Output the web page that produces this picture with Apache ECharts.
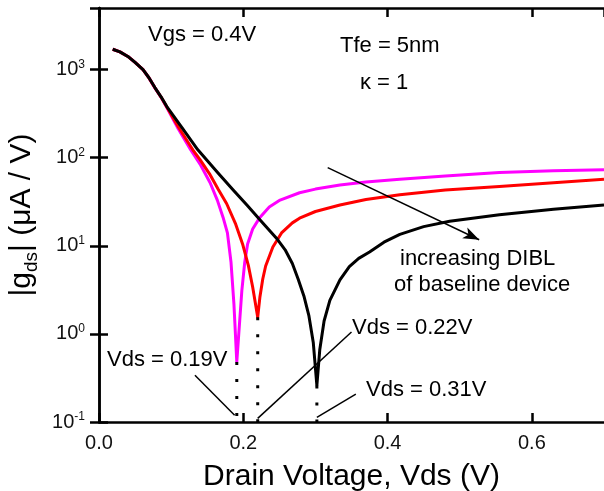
<!DOCTYPE html>
<html>
<head>
<meta charset="utf-8">
<script src="https://cdn.jsdelivr.net/npm/echarts@6/dist/echarts.min.js"></script>
<style>
  html, body { margin: 0; padding: 0; background: #fff; }
  #chart { width: 604px; height: 491px; }
</style>
</head>
<body>
<div id="chart"></div>
<script>
// |gds| vs Vds
let vdsMagenta = [0.019, 0.029, 0.04, 0.05, 0.061, 0.069, 0.0775, 0.086, 0.094, 0.11, 0.127, 0.141, 0.154, 0.164, 0.172, 0.178, 0.183, 0.187, 0.191, 0.195, 0.198, 0.202, 0.206, 0.213, 0.223, 0.236, 0.251, 0.278, 0.30, 0.334, 0.37, 0.417, 0.48, 0.555, 0.63, 0.7];
let gMagenta   = [1700, 1590, 1410, 1205, 1000, 810, 620, 485, 372, 212, 123, 82, 52, 33, 21, 14, 6.5, 2.2, 0.48, 1.4, 3.1, 6.5, 10.5, 15.5, 21, 27.5, 33, 40, 44, 49, 53, 57, 62, 68, 71, 73];

let vdsRed = [0.019, 0.029, 0.04, 0.05, 0.061, 0.069, 0.0775, 0.086, 0.094, 0.11, 0.13, 0.14, 0.153, 0.165, 0.177, 0.189, 0.199, 0.207, 0.213, 0.220, 0.223, 0.227, 0.231, 0.241, 0.253, 0.268, 0.278, 0.30, 0.334, 0.37, 0.417, 0.48, 0.555, 0.63, 0.7];
let gRed   = [1700, 1590, 1410, 1205, 1000, 810, 622, 487, 376, 223, 123, 95, 66, 44, 30, 18, 10.5, 6, 3.4, 1.55, 2.6, 4.2, 5.9, 9.7, 14, 18.2, 20.6, 24.5, 29, 33.5, 38, 43, 47, 52, 57];

let vdsBlack = [0.019, 0.029, 0.04, 0.05, 0.061, 0.069, 0.0775, 0.086, 0.094, 0.115, 0.137, 0.165, 0.186, 0.205, 0.223, 0.246, 0.258, 0.268, 0.276, 0.284, 0.291, 0.297, 0.302, 0.306, 0.312, 0.32, 0.334, 0.347, 0.36, 0.375, 0.395, 0.417, 0.45, 0.486, 0.555, 0.63, 0.7];
let gBlack   = [1700, 1590, 1410, 1205, 1000, 813, 625, 491, 380, 219, 123, 67, 43, 29, 19.7, 12.2, 9, 6.3, 4.2, 2.7, 1.6, 0.8, 0.26, 0.66, 1.4, 2.4, 4.1, 5.8, 7.2, 8.5, 11, 13.5, 16.5, 19, 22.5, 26, 29];

// minimum positions (dotted drop lines)
let dipVds = [0.191, 0.220, 0.302];
let dipG   = [0.48, 1.55, 0.26];

let xTicks = ['0.0', '0.2', '0.4', '0.6'];

let FONT = 'Liberation Sans, Arial, sans-serif';

function pairs(xs, ys){
    return xs.map((x, i) => [x, ys[i]]);
}

let chart = echarts.init(document.getElementById('chart'));

let curve = (name, color, xs, ys) => ({
    name: name,
    type: 'line',
    data: pairs(xs, ys),
    showSymbol: false,
    symbol: 'none',
    smooth: false,
    lineStyle: { color: color, width: 3, join: 'round' },
    z: 3
});

let dropLines = dipVds.map((x, i) => ({
    type: 'line',
    data: [[x, dipG[i]], [x, 0.1]],
    symbol: 'none',
    lineStyle: { color: '#000', width: 3, type: [3, 14] },
    z: 4
}));

let thin = { color: '#000', width: 1.5, type: 'solid' };

function note(text, left, top){
    return { type: 'text', left: left, top: top, style: { text: text, fontSize: 22, fontFamily: FONT, fill: '#000' } };
}

let option = {
    animation: false,
    backgroundColor: '#fff',
    textStyle: { fontFamily: FONT },
    grid: { left: 99, right: 0, top: 8, bottom: 69, outerBoundsMode: 'none', containLabel: false },
    xAxis: [{
        type: 'value',
        min: 0, max: 0.7, interval: 0.2,
        axisLine: { lineStyle: { color: '#000', width: 2.5 } },
        axisTick: { inside: true, length: 9, lineStyle: { color: '#000', width: 2.5 } },
        splitLine: { show: false },
        axisLabel: {
            showMaxLabel: false,
            margin: 11, fontSize: 20, color: '#111', fontFamily: FONT,
            formatter: v => xTicks[Math.round(v / 0.2)] || ''
        },
        name: 'Drain Voltage, Vds (V)',
        nameLocation: 'middle',
        nameGap: 40,
        nameTextStyle: { fontSize: 30, color: '#000', fontFamily: FONT }
    }, {
        type: 'value', position: 'top',
        min: 0, max: 0.7, interval: 0.2,
        axisLine: { lineStyle: { color: '#000', width: 2.5 } },
        axisTick: { inside: true, length: 9, lineStyle: { color: '#000', width: 2.5 } },
        axisLabel: { show: false },
        splitLine: { show: false }
    }],
    yAxis: [{
        type: 'log', logBase: 10,
        min: 0.1, max: 5000,
        axisLine: { show: true, lineStyle: { color: '#000', width: 2.5 } },
        axisTick: { show: true, inside: true, length: 9, lineStyle: { color: '#000', width: 2.5 } },
        minorTick: { show: false },
        splitLine: { show: false },
        axisLabel: {
            showMaxLabel: false,
            margin: 14,
            color: '#111',
            formatter: v => '{b|10}{s|' + Math.round(Math.log10(v)) + '}',
            rich: {
                b: { fontSize: 20, fontFamily: FONT, color: '#111' },
                s: { fontSize: 12, fontFamily: FONT, color: '#111', verticalAlign: 'top', padding: [0, 0, 10, 0] }
            }
        },
        name: '|g{sub|ds}| (μA / V)',
        nameLocation: 'middle',
        nameGap: 44,
        nameRotate: 90,
        nameTextStyle: {
            fontSize: 30, color: '#000', fontFamily: FONT,
            rich: {
                sub: { fontSize: 19, fontFamily: FONT, color: '#000', verticalAlign: 'bottom', padding: [20, 0, 0, 0] }
            }
        }
    }, {
        type: 'log', logBase: 10, position: 'right',
        min: 0.1, max: 5000,
        axisLine: { show: true, lineStyle: { color: '#000', width: 2.5 } },
        axisTick: { show: true, inside: true, length: 9, lineStyle: { color: '#000', width: 2.5 } },
        axisLabel: { show: false },
        splitLine: { show: false }
    }],
    series: [
        curve('baseline + high DIBL', '#ff00ff', vdsMagenta, gMagenta),
        curve('mid DIBL', '#ff0000', vdsRed, gRed),
        curve('low DIBL', '#000000', vdsBlack, gBlack),
        ...dropLines,
        {
            type: 'line', data: [], symbol: 'none',
            markLine: {
                silent: true,
                animation: false,
                label: { show: false },
                lineStyle: thin,
                data: [
                    [{ coord: [0.317, 77], symbol: 'none' }, { coord: [0.527, 11.7], symbol: 'arrow', symbolSize: [9, 16] }],
                    [{ coord: [0.133, 0.34], symbol: 'none' }, { coord: [0.188, 0.119], symbol: 'none' }],
                    [{ coord: [0.220, 0.110], symbol: 'none' }, { coord: [0.350, 1.05], symbol: 'none' }],
                    [{ coord: [0.302, 0.113], symbol: 'none' }, { coord: [0.356, 0.207], symbol: 'none' }]
                ]
            }
        }
    ],
    graphic: [
        note('Vgs = 0.4V', 148, 24),
        note('Tfe = 5nm', 340, 35),
        note('κ = 1', 360, 72),
        note('increasing DIBL', 400, 248),
        note('of baseline device', 394, 274),
        note('Vds = 0.19V', 107, 349),
        note('Vds = 0.22V', 352, 317),
        note('Vds = 0.31V', 366, 379)
    ]
};

chart.setOption(option);
</script>
</body>
</html>
